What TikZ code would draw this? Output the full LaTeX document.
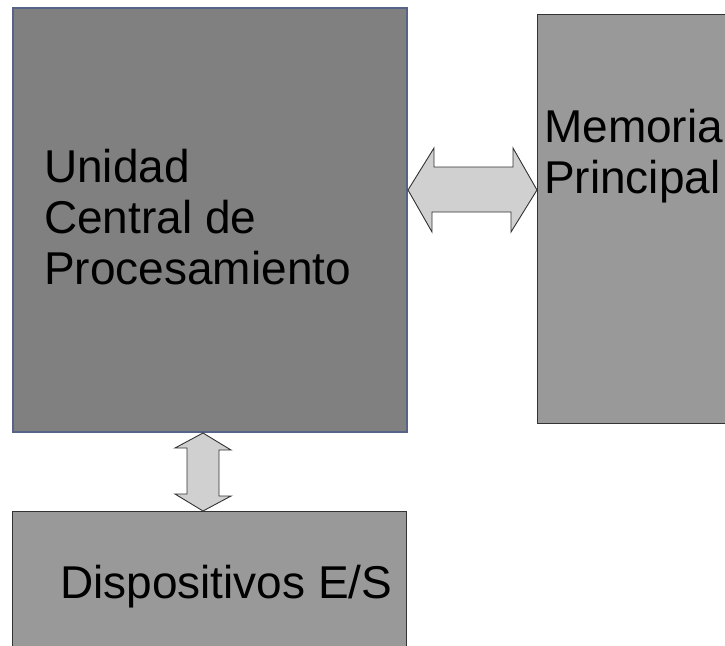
\documentclass[tikz,border=0pt]{standalone}
\usepackage{fontspec}
\setmainfont{Liberation Sans}
\usetikzlibrary{positioning}
\definecolor{cpugray}{RGB}{128,128,128}
\definecolor{cpuedge}{RGB}{88,100,135}
\definecolor{boxgray}{RGB}{153,153,153}
\definecolor{busgray}{RGB}{208,208,208}
\tikzset{
  unitbox/.style={draw=black!80, fill=boxgray, line width=1.2pt, inner sep=0pt, anchor=north west},
  boxtext/.style={inner sep=0pt, align=left, font=\fontsize{46}{51}\selectfont},
  busarrow/.style={draw=black!80, fill=busgray, line width=0.9pt, line join=miter}
}

\begin{document}
\begin{tikzpicture}[x=1pt,y=-1pt]
      \useasboundingbox (0,0) rectangle (725,645);
      % boxes
      \node[unitbox, fill=cpugray, draw=cpuedge, line width=2pt,
        minimum width=394pt, minimum height=424pt] (cpu) at (12,7) {};
      \node[unitbox, minimum width=200pt, minimum height=409pt] (mem) at (537,14) {};
      \node[unitbox, minimum width=394pt, minimum height=150pt] (io) at (12,511) {};
      % texts
      \node[boxtext, anchor=north west] (cputext) at (44,149) {Unidad\\Central de\\Procesamiento};
      \node[boxtext, anchor=north west] (memtext) at (544,109) {Memoria\\Principal};
      \node[boxtext, anchor=base west] (iotext) at (60,598) {Dispositivos E/S};
      % buses
      \draw[busarrow] (cpu.east |- 0,190) -- ++(26,-42) -- ++(0,19) -- ++(79,0)
        -- ++(0,-19) -- (mem.west |- 0,190) -- ++(-26,42) -- ++(0,-20)
        -- ++(-79,0) -- ++(0,20) -- cycle;
      \draw[busarrow] (cpu.south -| 203,0) -- ++(28,17) -- ++(-12,0) -- ++(0,46)
        -- ++(12,0) -- (io.north -| 203,0) -- ++(-28,-17) -- ++(12,0)
        -- ++(0,-46) -- ++(-12,0) -- cycle;
    \end{tikzpicture}
\end{document}
